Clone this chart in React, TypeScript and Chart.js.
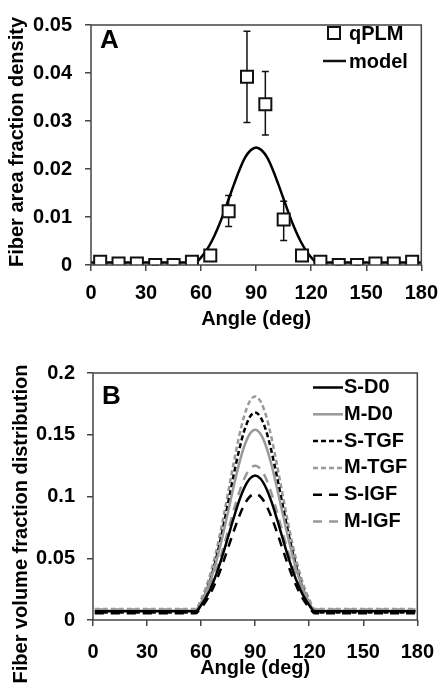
import React, { useEffect, useRef } from "react";
import { Chart, registerables } from "chart.js";

Chart.register(...registerables);

const FONT = "'Liberation Sans', Arial, Helvetica, sans-serif";

// ---------- Panel A data ----------
const X_TICKS = [0, 30, 60, 90, 120, 150, 180];
const Y_TICKS_A = [0, 0.01, 0.02, 0.03, 0.04, 0.05];
const ANGLE_BINS = [5, 15, 25, 35, 45, 55, 65, 75, 85, 95, 105, 115, 125, 135, 145, 155, 165, 175];
const QPLM = [0.0007, 0.0003, 0.0003, 0, 0, 0.0007, 0.002, 0.0112, 0.0392, 0.0335, 0.0095, 0.002, 0.0007, 0, 0, 0.0003, 0.0003, 0.0007];
const QPLM_LOW = [0.0004, 0.0002, 0.0002, 0, 0, 0.0004, 0.0015, 0.008, 0.0297, 0.0271, 0.0051, 0.0015, 0.0004, 0, 0, 0.0002, 0.0002, 0.0004];
const QPLM_HIGH = [0.001, 0.0004, 0.0004, 0, 0, 0.001, 0.0026, 0.0145, 0.0487, 0.0403, 0.0133, 0.0026, 0.001, 0, 0, 0.0004, 0.0004, 0.001];
const MODEL_ANGLES = [0, 57, 60, 63, 66, 69, 72, 75, 78, 81, 84, 87, 90, 93, 96, 99, 102, 105, 108, 111, 114, 117, 120, 123, 180];
const MODEL = [0.0005, 0.0005, 0.0016, 0.0031, 0.0051, 0.0076, 0.0105, 0.0137, 0.0169, 0.0199, 0.0224, 0.0239, 0.0245, 0.0239, 0.0224, 0.0199, 0.0169, 0.0137, 0.0105, 0.0076, 0.0051, 0.0031, 0.0016, 0.0005, 0.0005];

// ---------- Panel B data ----------
const Y_TICKS_B = [0, 0.05, 0.1, 0.15, 0.2];
const B_ANGLES = [1, 57, 60, 63, 66, 69, 72, 75, 78, 81, 84, 87, 90, 93, 96, 99, 102, 105, 108, 111, 114, 117, 120, 123, 179];
const S_D0 = [0.007, 0.007, 0.012, 0.0189, 0.028, 0.0394, 0.0527, 0.0674, 0.0822, 0.096, 0.1071, 0.1144, 0.117, 0.1144, 0.1071, 0.096, 0.0822, 0.0674, 0.0527, 0.0394, 0.028, 0.0189, 0.012, 0.007, 0.007];
const M_D0 = [0.0075, 0.0075, 0.0141, 0.0233, 0.0355, 0.0506, 0.0684, 0.0879, 0.1077, 0.126, 0.1409, 0.1506, 0.154, 0.1506, 0.1409, 0.126, 0.1077, 0.0879, 0.0684, 0.0506, 0.0355, 0.0233, 0.0141, 0.0075, 0.0075];
const S_TGF = [0.006, 0.006, 0.0133, 0.0235, 0.0369, 0.0537, 0.0733, 0.0949, 0.1168, 0.137, 0.1535, 0.1642, 0.168, 0.1642, 0.1535, 0.137, 0.1168, 0.0949, 0.0733, 0.0537, 0.0369, 0.0235, 0.0133, 0.006, 0.006];
const M_TGF = [0.009, 0.009, 0.0168, 0.0276, 0.0418, 0.0596, 0.0805, 0.1034, 0.1266, 0.1481, 0.1656, 0.177, 0.181, 0.177, 0.1656, 0.1481, 0.1266, 0.1034, 0.0805, 0.0596, 0.0418, 0.0276, 0.0168, 0.009, 0.009];
const S_IGF = [0.0055, 0.0055, 0.0099, 0.0159, 0.0239, 0.0339, 0.0456, 0.0585, 0.0715, 0.0835, 0.0934, 0.0998, 0.102, 0.0998, 0.0934, 0.0835, 0.0715, 0.0585, 0.0456, 0.0339, 0.0239, 0.0159, 0.0099, 0.0055, 0.0055];
const M_IGF = [0.0085, 0.0085, 0.0138, 0.0211, 0.0307, 0.0428, 0.0569, 0.0724, 0.0882, 0.1027, 0.1146, 0.1223, 0.125, 0.1223, 0.1146, 0.1027, 0.0882, 0.0724, 0.0569, 0.0428, 0.0307, 0.0211, 0.0138, 0.0085, 0.0085];

const B_SERIES = [
  { label: "S-D0", data: S_D0, color: "#000000", dash: [] as number[] },
  { label: "M-D0", data: M_D0, color: "#999999", dash: [] as number[] },
  { label: "S-TGF", data: S_TGF, color: "#000000", dash: [5, 3] },
  { label: "M-TGF", data: M_TGF, color: "#999999", dash: [5, 3] },
  { label: "S-IGF", data: S_IGF, color: "#000000", dash: [9, 7] },
  { label: "M-IGF", data: M_IGF, color: "#999999", dash: [9, 7] },
];

const toPts = (xs: number[], ys: number[]) => xs.map((x, i) => ({ x, y: ys[i] }));

function makeScales(yTicks: number[], yMax: number, yWidth: number, xPad: number, yPad: number) {
  const font = { family: FONT, size: 20, weight: "bold" as const };
  return {
    x: {
      type: "linear" as const,
      min: 0,
      max: 180,
      afterBuildTicks: (s: any) => {
        s.ticks = X_TICKS.map((v) => ({ value: v }));
      },
      afterFit: (s: any) => {
        s.height = 75;
      },
      ticks: { font, color: "#000", padding: xPad, autoSkip: false, maxRotation: 0, callback: (v: any) => String(v) },
      grid: { drawOnChartArea: false, drawTicks: true, tickLength: 6, color: "#444", lineWidth: 1.5 },
      border: { display: false },
    },
    y: {
      type: "linear" as const,
      min: 0,
      max: yMax,
      afterBuildTicks: (s: any) => {
        s.ticks = yTicks.map((v) => ({ value: v }));
      },
      afterFit: (s: any) => {
        s.width = yWidth;
      },
      ticks: { font, color: "#000", padding: yPad, autoSkip: false, callback: (v: any) => String(v) },
      grid: { drawOnChartArea: false, drawTicks: true, tickLength: 6, color: "#444", lineWidth: 1.5 },
      border: { display: false },
    },
  };
}

function drawCommon(chart: any, letter: string, letterY: number, xTitleY: number, yTitle: string, yTitleX: number, yTitleY: number) {
  const { ctx, chartArea: a } = chart;
  ctx.save();
  ctx.strokeStyle = "#444";
  ctx.lineWidth = 1.5;
  ctx.setLineDash([]);
  ctx.strokeRect(a.left, a.top, a.right - a.left, a.bottom - a.top);
  ctx.fillStyle = "#000";
  ctx.font = `bold 26px ${FONT}`;
  ctx.textAlign = "left";
  ctx.textBaseline = "middle";
  ctx.fillText(letter, a.left + 9, letterY);
  ctx.font = `bold 20px ${FONT}`;
  ctx.textAlign = "center";
  ctx.fillText("Angle (deg)", (a.left + a.right) / 2, xTitleY);
  ctx.translate(yTitleX, yTitleY);
  ctx.rotate(-Math.PI / 2);
  ctx.fillText(yTitle, 0, 0);
  ctx.restore();
}

function PanelA() {
  const ref = useRef<HTMLCanvasElement>(null);
  useEffect(() => {
    const errorBars = {
      id: "errorBarsA",
      beforeDatasetsDraw(chart: any) {
        const { ctx, scales } = chart;
        ctx.save();
        ctx.strokeStyle = "#111";
        ctx.lineWidth = 1.5;
        ANGLE_BINS.forEach((ang, i) => {
          const x = scales.x.getPixelForValue(ang);
          const y1 = scales.y.getPixelForValue(QPLM_LOW[i]);
          const y2 = scales.y.getPixelForValue(QPLM_HIGH[i]);
          ctx.beginPath();
          ctx.moveTo(x, y1);
          ctx.lineTo(x, y2);
          ctx.moveTo(x - 3.5, y1);
          ctx.lineTo(x + 3.5, y1);
          ctx.moveTo(x - 3.5, y2);
          ctx.lineTo(x + 3.5, y2);
          ctx.stroke();
        });
        ctx.restore();
      },
    };
    const deco = {
      id: "decoA",
      afterDraw(chart: any) {
        drawCommon(chart, "A", 41, 319, "Fiber area fraction density", 17, 142);
        const { ctx } = chart;
        ctx.save();
        ctx.strokeStyle = "#111";
        ctx.lineWidth = 2;
        ctx.fillStyle = "#fff";
        ctx.fillRect(328, 27, 12, 12);
        ctx.strokeRect(328, 27, 12, 12);
        ctx.beginPath();
        ctx.lineWidth = 2.5;
        ctx.moveTo(323, 61);
        ctx.lineTo(346, 61);
        ctx.stroke();
        ctx.fillStyle = "#000";
        ctx.font = `bold 20px ${FONT}`;
        ctx.textAlign = "left";
        ctx.textBaseline = "middle";
        ctx.fillText("qPLM", 349, 34);
        ctx.fillText("model", 349, 62);
        ctx.restore();
      },
    };
    const chart = new Chart(ref.current!, {
      type: "scatter",
      data: {
        datasets: [
          {
            label: "qPLM",
            data: toPts(ANGLE_BINS, QPLM),
            pointStyle: "rect",
            pointRadius: 8.5,
            pointBorderWidth: 2,
            pointBorderColor: "#111",
            pointBackgroundColor: "#fff",
            showLine: false,
          },
          {
            label: "model",
            data: toPts(MODEL_ANGLES, MODEL),
            showLine: true,
            pointRadius: 0,
            borderColor: "#000",
            borderWidth: 2.5,
            cubicInterpolationMode: "monotone",
          },
        ],
      },
      options: {
        responsive: false,
        animation: false,
        layout: { padding: { left: 0, top: 15, right: 25, bottom: 0 } },
        plugins: { legend: { display: false }, tooltip: { enabled: false } },
        scales: makeScales(Y_TICKS_A, 0.05, 91, 10, 13) as any,
      },
      plugins: [errorBars, deco],
    } as any);
    return () => chart.destroy();
  }, []);
  return <canvas ref={ref} width={448} height={340} style={{ position: "fixed", left: 0, top: 0 }} />;
}

function PanelB() {
  const ref = useRef<HTMLCanvasElement>(null);
  useEffect(() => {
    const deco = {
      id: "decoB",
      afterDraw(chart: any) {
        drawCommon(chart, "B", 57, 328, "Fiber volume fraction distribution", 21, 184);
        const { ctx } = chart;
        ctx.save();
        ctx.font = `bold 20px ${FONT}`;
        ctx.textAlign = "left";
        ctx.textBaseline = "middle";
        B_SERIES.forEach((s, i) => {
          const y = 47.5 + i * 26.8;
          ctx.strokeStyle = s.color;
          ctx.lineWidth = 2.5;
          ctx.setLineDash(s.dash);
          ctx.beginPath();
          ctx.moveTo(313, y);
          ctx.lineTo(343, y);
          ctx.stroke();
          ctx.fillStyle = "#000";
          ctx.fillText(s.label, 344, y);
        });
        ctx.restore();
      },
    };
    const chart = new Chart(ref.current!, {
      type: "scatter",
      data: {
        datasets: B_SERIES.map((s) => ({
          label: s.label,
          data: toPts(B_ANGLES, s.data),
          showLine: true,
          pointRadius: 0,
          borderColor: s.color,
          borderWidth: 2.5,
          borderDash: s.dash,
          cubicInterpolationMode: "monotone",
        })),
      },
      options: {
        responsive: false,
        animation: false,
        layout: { padding: { left: 0, top: 33, right: 25, bottom: 0 } },
        plugins: { legend: { display: false }, tooltip: { enabled: false } },
        scales: makeScales(Y_TICKS_B, 0.2, 93, 14, 12) as any,
      },
      plugins: [deco],
    } as any);
    return () => chart.destroy();
  }, []);
  return <canvas ref={ref} width={448} height={355} style={{ position: "fixed", left: 0, top: 340 }} />;
}

export default function App() {
  return (
    <div style={{ width: 0, height: 0 }}>
      <PanelA />
      <PanelB />
    </div>
  );
}
